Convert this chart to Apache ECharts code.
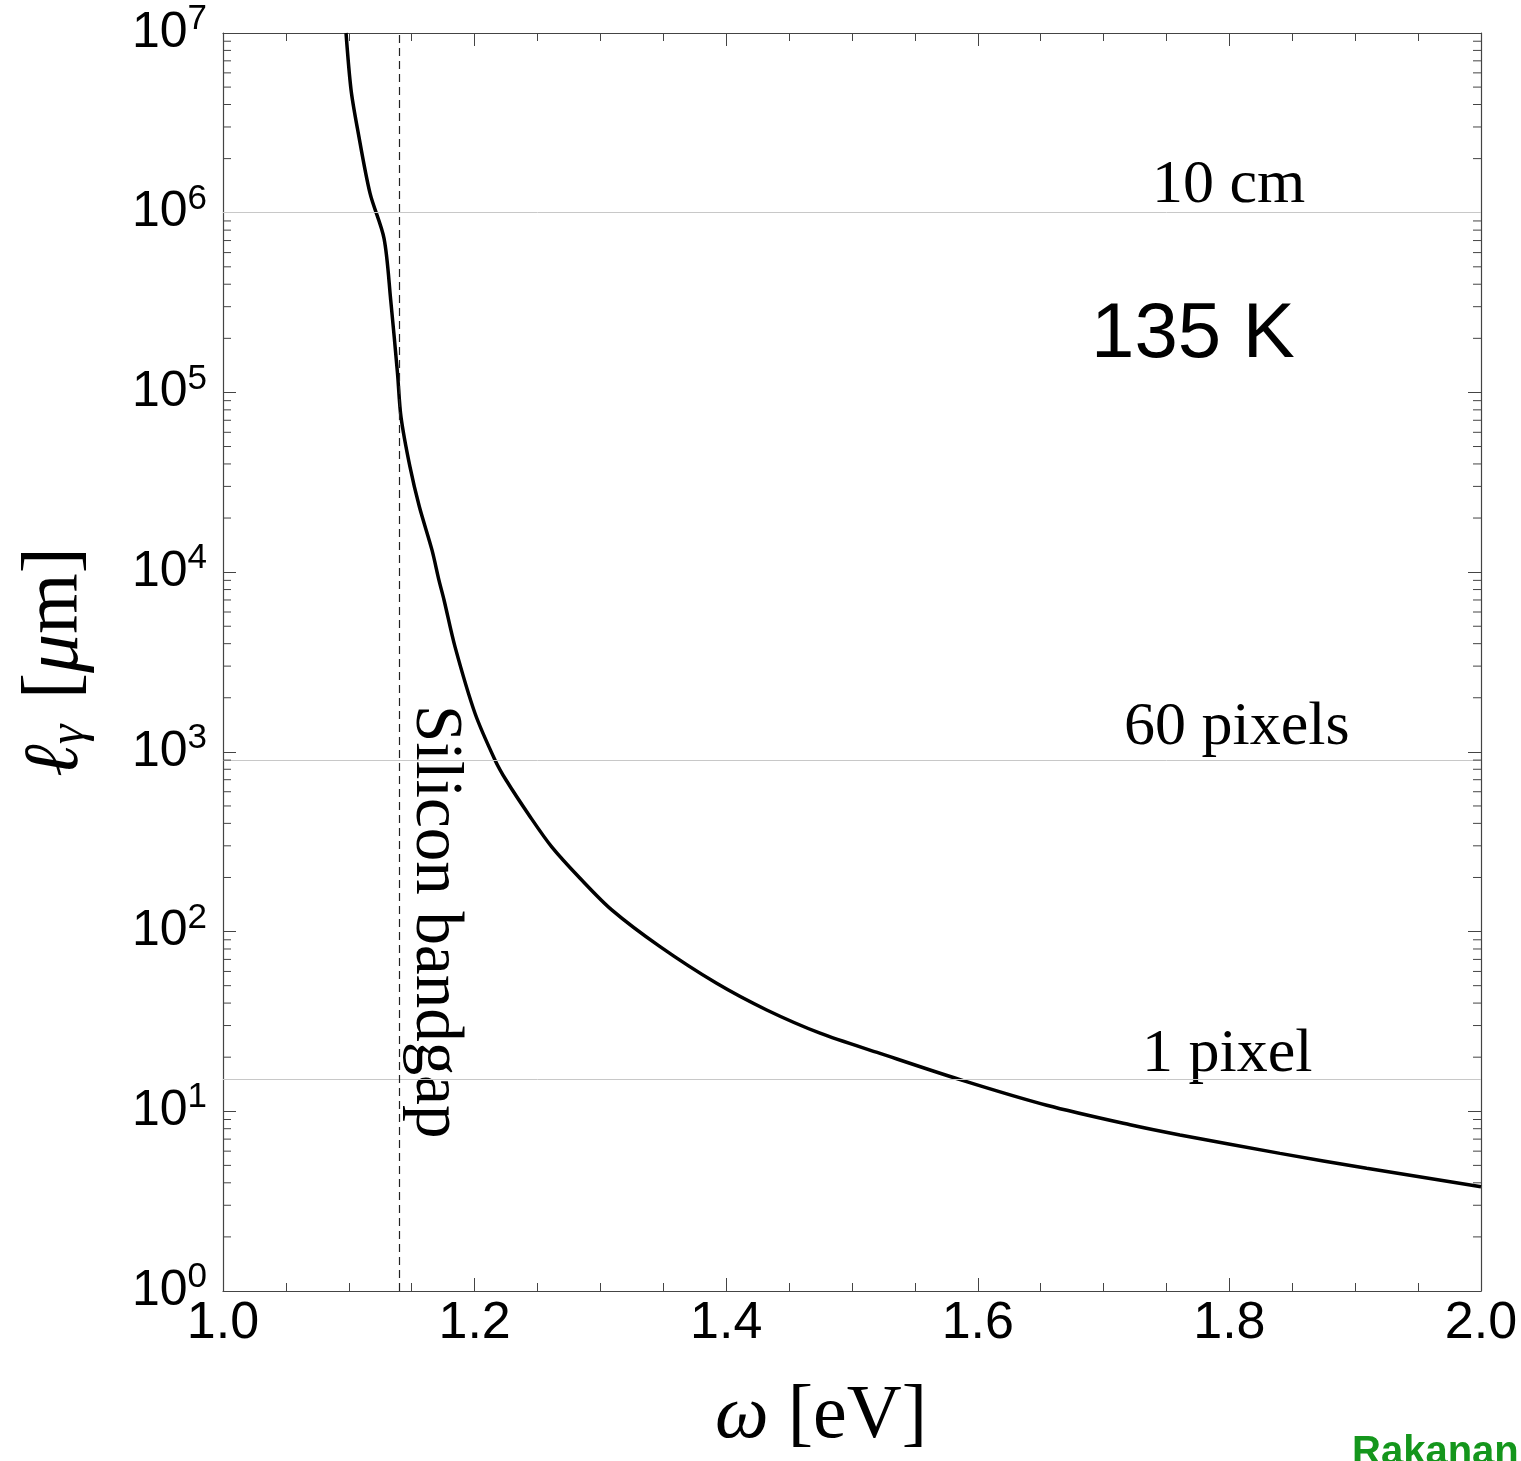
<!DOCTYPE html>
<html>
<head>
<meta charset="utf-8">
<script src="https://cdn.jsdelivr.net/npm/echarts@6/dist/echarts.min.js"></script>
<style>
  html, body { margin: 0; padding: 0; background: #fff; }
  #chart { width: 1521px; height: 1461px; }
</style>
</head>
<body>
<div id="chart"></div>
<script>
// photon energy (eV) and absorption length (um)
const omega = [1.0978, 1.1018, 1.1071, 1.1169, 1.128, 1.1333, 1.1387, 1.1415, 1.1486, 1.1561, 1.1661, 1.1717, 1.1757,
  1.1844, 1.2003, 1.2162, 1.2250, 1.244, 1.2613, 1.2838, 1.3090, 1.3474, 1.3924, 1.4322, 1.4746, 1.5223, 1.5859,
  1.6548, 1.7210, 1.7607, 1.8402, 1.9091, 2.0];
const absLength = [1.0e7, 4.82e6, 2.88e6, 1.28e6, 7.2e5, 3.27e5, 1.28e5, 7.3e4, 3.86e4, 2.31e4, 1.33e4, 9.0e3, 7.0e3,
  3.85e3, 1.64e3, 902, 697, 437, 296, 198, 132, 82.4, 51.5, 36.6, 27.2, 21.0, 15.0,
  10.8, 8.41, 7.38, 5.83, 4.82, 3.80];

// reference lengths (horizontal lines) and their labels
const refValues = [1e6, 900, 15];
const refLabels = ['10 cm', '60 pixels', '1 pixel'];

const bandgap = 1.14; // eV, dashed line
const tempLabel = '135 K';

// axis ticks
const xTicks = [1.0, 1.2, 1.4, 1.6, 1.8, 2.0];
const yDecades = [1, 10, 100, 1e3, 1e4, 1e5, 1e6];
const yMinorMult = [2, 3, 4, 5, 6, 7, 8, 9];
const yMinorTicks = [];
yDecades.forEach(d => yMinorMult.forEach(m => yMinorTicks.push(m * d)));

const chart = echarts.init(document.getElementById('chart'));

const frame = '#444';
const sans = 'Liberation Sans';
const serif = 'Liberation Serif';

const xBase = {
  type: 'value', min: xTicks[0], max: xTicks[xTicks.length - 1], interval: 0.2,
  axisLine: { lineStyle: { color: frame, width: 1.2 } },
  axisTick: { inside: true, length: 13, lineStyle: { color: frame } },
  minorTick: { show: true, splitNumber: 4, length: 8, lineStyle: { color: frame } },
  splitLine: { show: false },
};
const yBase = {
  type: 'log', logBase: 10, min: 1, max: 1e7, splitNumber: 7,
  axisLine: { show: true, lineStyle: { color: frame, width: 1.2 } },
  axisTick: { show: true, inside: true, length: 13, lineStyle: { color: frame } },
  splitLine: { show: false },
};

const options = {
  backgroundColor: '#fff',
  animation: false,
  grid: { left: 223, top: 33, right: 40, bottom: 170, containLabel: false },
  xAxis: [
    Object.assign({}, xBase, {
      position: 'bottom',
      axisLabel: {
        margin: 7, color: '#000', fontFamily: sans, fontSize: 52,
        formatter: v => v.toFixed(1),
      },
      name: '{i|\u03c9} [eV]',
      nameLocation: 'middle', nameGap: 88,
      nameTextStyle: {
        fontFamily: serif, fontSize: 76, color: '#000', padding: [0, 62, 0, 0],
        rich: { i: { fontFamily: serif, fontStyle: 'italic', fontSize: 76, color: '#000' } },
      },
    }),
    Object.assign({}, xBase, { position: 'top', axisLabel: { show: false } }),
  ],
  yAxis: [
    Object.assign({}, yBase, {
      position: 'left',
      axisLabel: {
        margin: 16, color: '#000',
        formatter: v => '{b|10}{s|' + Math.round(Math.log10(v)) + '}',
        rich: {
          b: { fontFamily: sans, fontSize: 50, color: '#000' },
          s: { fontFamily: sans, fontSize: 35, color: '#000', verticalAlign: 'bottom', padding: [0, 0, 27, 0] },
        },
      },
      name: '{i|\u2113}{g|\u03b3} [{i|\u03bc}m]',
      nameLocation: 'middle', nameGap: 128, nameRotate: 90,
      nameTextStyle: {
        fontFamily: serif, fontSize: 78, color: '#000',
        rich: {
          i: { fontFamily: serif, fontStyle: 'italic', fontSize: 78, color: '#000' },
          g: { fontFamily: serif, fontStyle: 'italic', fontSize: 50, color: '#000', verticalAlign: 'bottom', padding: [18, 6, 0, 0] },
        },
      },
    }),
    Object.assign({}, yBase, { position: 'right', axisLabel: { show: false } }),
  ],
  series: [
    {
      name: 'absorption length',
      type: 'line',
      data: omega.map((w, i) => [w, absLength[i]]),
      showSymbol: false,
      smooth: 0.3,
      clip: true,
      lineStyle: { color: '#000', width: 3.5 },
      z: 4,
      markLine: {
        silent: true, symbol: 'none', animation: false,
        label: { show: false },
        data: [
          ...refValues.map(v => ({ yAxis: v, lineStyle: { color: '#c8c8c8', width: 1, type: 'solid' } })),
          { xAxis: bandgap, lineStyle: { color: '#222', width: 1.2, type: [8, 5] } },
        ],
      },
    },
    {
      // minor log ticks on both vertical frame edges
      name: 'minor ticks',
      type: 'custom',
      silent: true,
      z: 5,
      data: yMinorTicks.map(v => [1, v]),
      renderItem: (params, api) => {
        const v = api.value(1);
        const l = api.coord([1, v]);
        const r = api.coord([2, v]);
        const st = { stroke: frame, lineWidth: 1 };
        return {
          type: 'group',
          children: [
            { type: 'line', shape: { x1: l[0], y1: l[1], x2: l[0] + 8, y2: l[1] }, style: st },
            { type: 'line', shape: { x1: r[0] - 8, y1: r[1], x2: r[0], y2: r[1] }, style: st },
          ],
        };
      },
    },
  ],
  graphic: [
    { type: 'text', left: 1152, top: 155, style: { text: refLabels[0], font: '62px "' + serif + '"', fill: '#000' } },
    { type: 'text', left: 1124, top: 697, style: { text: refLabels[1], font: '62px "' + serif + '"', fill: '#000' } },
    { type: 'text', left: 1142, top: 1024, style: { text: refLabels[2], font: '62px "' + serif + '"', fill: '#000' } },
    { type: 'text', left: 1091, top: 296, style: { text: tempLabel, font: '78px "' + sans + '"', fill: '#000' } },
    {
      type: 'text', x: 401, y: 705, rotation: -Math.PI / 2,
      style: { text: 'Silicon bandgap', font: '67px "' + serif + '"', fill: '#000', textAlign: 'left', textVerticalAlign: 'bottom' },
    },
    { type: 'text', left: 1352, top: 1433, style: { text: 'Rakanan.', font: 'bold 40px "' + sans + '"', fill: '#14961c' } },
  ],
};

chart.setOption(options);
</script>
</body>
</html>
